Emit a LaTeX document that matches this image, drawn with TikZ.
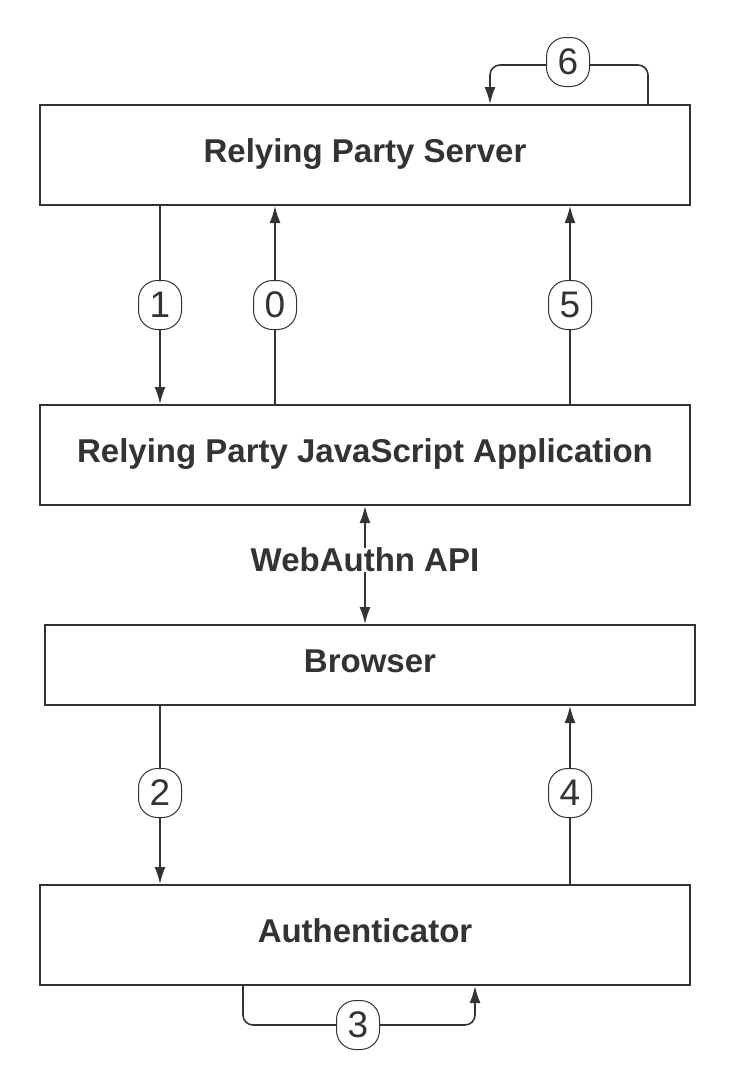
\documentclass[tikz,border=0pt]{standalone}
\usepackage{fontspec}
\setmainfont{Liberation Sans}
\usetikzlibrary{positioning,arrows.meta,calc}
\definecolor{ink}{HTML}{333333}
\tikzset{
  flowarrow/.style={-{Latex[length=17pt,width=11pt]}, line width=1.6pt, draw=ink},
  flowline/.style={line width=1.6pt, draw=ink},
  block/.style={draw=ink, line width=2pt, fill=white, minimum width=650pt, minimum height=100pt, align=center, text height=24pt, text depth=10pt, font=\fontsize{33}{38}\selectfont\bfseries, text=ink},
  steplabel/.style={draw=ink, line width=1pt, fill=white, rounded corners=19pt, minimum width=43pt, minimum height=49pt, inner sep=0pt, font=\fontsize{37}{37}\selectfont, text=ink}
}
\begin{document}
\begin{tikzpicture}[x=1pt, y=-1pt]
  \useasboundingbox[fill=white] (0,0) rectangle (735,1090);
  % boxes
  \node[block] (server) at (365,155) {Relying Party Server};
  \node[block] (app) at (365,455) {Relying Party JavaScript Application};
  \node[block, minimum height=80pt] (browser) at (370,665) {Browser};
  \node[block] (auth) at (365,935) {Authenticator};
  % step labels
  \node[steplabel] (l1) at (160,305) {1};
  \node[steplabel] (l0) at (275,305) {0};
  \node[steplabel] (l5) at (570,305) {5};
  \node[steplabel] (l6) at (568,62) {6};
  \node[steplabel] (l2) at (160,793) {2};
  \node[steplabel] (l4) at (570,793) {4};
  \node[steplabel] (l3) at (358,1025) {3};
  \node[font=\fontsize{33}{38}\selectfont\bfseries, text=ink] (api) at (365,560) {WebAuthn API};
  % server <-> app
  \draw[flowline] (server.south -| l1) -- (l1.north);
  \draw[flowarrow] (l1.south) -- (app.north -| l1);
  \draw[flowline] (app.north -| l0) -- (l0.south);
  \draw[flowarrow] (l0.north) -- (server.south -| l0);
  \draw[flowline] (app.north -| l5) -- (l5.south);
  \draw[flowarrow] (l5.north) -- (server.south -| l5);
  % server loop
  \coordinate (c6r) at (648,65);
  \coordinate (c6l) at (490,65);
  \draw[flowline, rounded corners=10pt] (server.north -| c6r) -- (c6r) -- (l6.east |- c6r);
  \draw[flowarrow, rounded corners=10pt] (l6.west |- c6l) -- (c6l) -- (server.north -| c6l);
  % api
  \draw[flowarrow] ($(api.north)+(0,4)$) -- (app.south -| api);
  \draw[flowarrow] ($(api.south)+(0,-4)$) -- (browser.north -| api);
  % browser <-> authenticator
  \draw[flowline] (browser.south -| l2) -- (l2.north);
  \draw[flowarrow] (l2.south) -- (auth.north -| l2);
  \draw[flowline] (auth.north -| l4) -- (l4.south);
  \draw[flowarrow] (l4.north) -- (browser.south -| l4);
  % authenticator loop
  \coordinate (c3l) at (243,1025);
  \coordinate (c3r) at (475,1025);
  \draw[flowline, rounded corners=10pt] (auth.south -| c3l) -- (c3l) -- (l3.west |- c3l);
  \draw[flowarrow, rounded corners=10pt] (l3.east |- c3r) -- (c3r) -- (auth.south -| c3r);
\end{tikzpicture}
\end{document}
